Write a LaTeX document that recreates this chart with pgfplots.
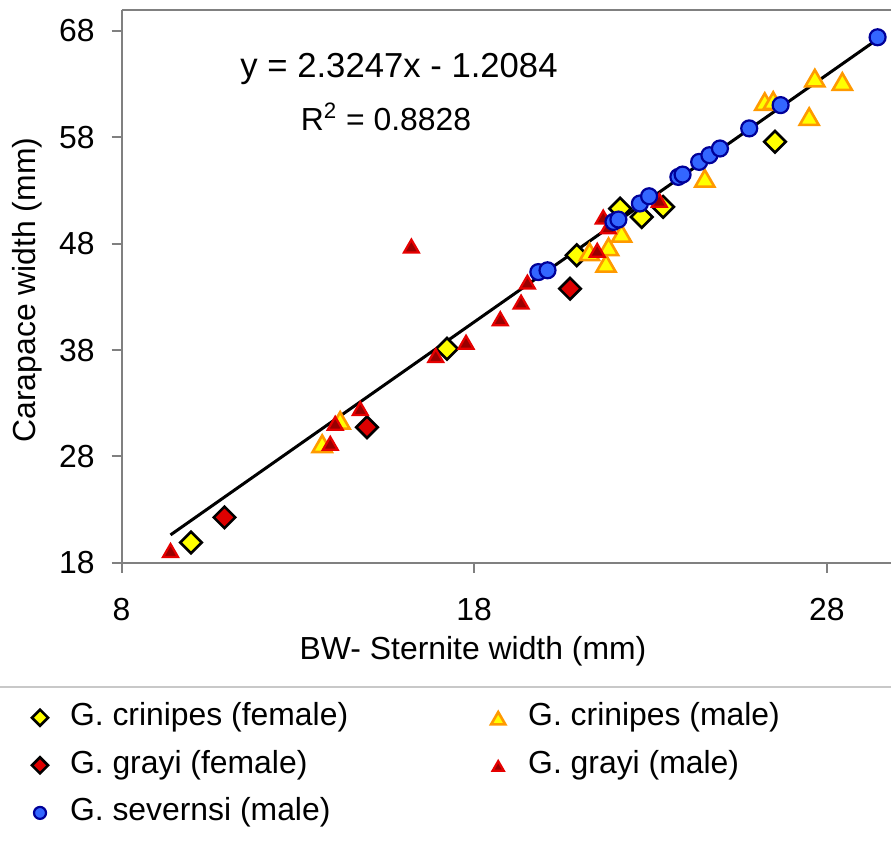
\documentclass[border=0pt]{standalone}
\usepackage{fontspec}
\setmainfont{Liberation Sans}
\usepackage{pgfplots}
\pgfplotsset{compat=1.18}

\definecolor{dyellow}{RGB}{255,255,0}
\definecolor{dorange}{RGB}{255,153,0}
\definecolor{dred}{RGB}{221,0,0}
\definecolor{tredfill}{RGB}{153,0,0}
\definecolor{tredline}{RGB}{230,0,0}
\definecolor{sblue}{RGB}{51,102,255}
\definecolor{sbluedark}{RGB}{0,0,153}
\definecolor{axgray}{RGB}{128,128,128}
\definecolor{sepgray}{RGB}{200,200,200}

\newcommand{\bigfont}{\fontsize{16}{19}\selectfont}

\pgfplotsset{
  scat/.style={only marks,
    legend image code/.code={%
      \path[draw=none, fill=none] (0bp,-5bp) rectangle (30bp,5bp);
      \draw[mark repeat=2,mark phase=2,##1,every mark/.append style={scale=0.75}]
        plot coordinates {(0bp,0bp) (15bp,0bp) (30bp,0bp)};}},
}

\begin{document}
\begin{tikzpicture}
\begin{axis}[
  scale only axis,
  width=384.7bp, height=276.5bp,
  xmin=8, xmax=29.82, ymin=18, ymax=70,
  xtick={8,18,28}, ytick={18,28,38,48,58,68},
  axis lines*=left,
  axis line style={axgray, line width=1bp},
  tick style={axgray, line width=1bp},
  tick align=outside,
  major tick length=5bp,
  clip=false,
  /pgf/number format/assume math mode=true,
  tick label style={font=\bigfont, black},
  label style={font=\bigfont},
  xticklabel style={anchor=north, inner sep=0pt, yshift=-12.4bp},
  yticklabel style={anchor=east, inner sep=0pt, xshift=-8.25bp},
  xlabel={BW- Sternite width (mm)},
  ylabel={Carapace width (mm)},
  xlabel style={at={(axis description cs:0.4568,-0.1597)}, anchor=center},
  ylabel style={at={(axis description cs:-0.1228,0.4931)}, anchor=center},
  legend columns=2,
  legend cell align=left,
  legend style={at={(axis description cs:-0.1449,-0.2512)}, anchor=north west,
    draw=none, fill=none, inner sep=0pt, outer sep=0pt, font=\bigfont,
    row sep=7.8bp, column sep=0pt,
    nodes={inner sep=0pt, text height=12bp, text depth=4bp},
    /tikz/every even column/.append style={column sep=60bp}},
]

% G. crinipes (female)
\addplot[scat, mark=square*, mark size=3.8bp,
  mark options={rotate=45, fill=dyellow, draw=black, line width=1.3bp}] coordinates {
  (9.97,19.91) (17.23,38.12) (20.91,46.91) (22.14,51.30) (22.75,50.51) (23.36,51.46) (26.53,57.58)
};
\addlegendentry{G. crinipes (female)}

% G. crinipes (male)
\addplot[scat, mark=triangle*, mark size=5.5bp,
  mark options={fill=dyellow, draw=dorange, line width=1.3bp, yshift=-1.3bp}] coordinates {
  (13.69,29.18) (14.20,31.37) (21.27,47.22) (21.74,46.13) (21.81,47.69) (22.18,48.95)
  (24.54,54.13) (26.24,61.34) (26.48,61.44) (27.50,59.93) (27.66,63.55) (28.44,63.23)
};
\addlegendentry{G. crinipes (male)}

% G. grayi (female)
\addplot[scat, mark=square*, mark size=3.8bp,
  mark options={rotate=45, fill=dred, draw=black, line width=1.3bp}] coordinates {
  (10.92,22.27) (14.96,30.74) (20.72,43.77)
};
\addlegendentry{G. grayi (female)}

% G. grayi (male)
\addplot[scat, mark=triangle*, mark size=4.3bp,
  mark options={fill=tredfill, draw=tredline, line width=1.1bp, yshift=-1.1bp}] coordinates {
  (9.39,19.16) (13.92,29.23) (14.06,31.12) (14.77,32.50) (16.22,47.78) (16.91,37.49)
  (17.77,38.74) (18.74,40.95) (19.33,42.51) (19.51,44.39) (21.49,47.38) (21.66,50.51)
  (21.80,49.60) (23.25,52.08)
};
\addlegendentry{G. grayi (male)}

% G. severnsi (male)
\addplot[scat, mark=*, mark size=4bp,
  mark options={fill=sblue, draw=sbluedark, line width=1.1bp}] coordinates {
  (19.82,45.33) (20.08,45.50) (21.95,50.05) (22.09,50.27) (22.70,51.78) (22.96,52.46)
  (23.79,54.28) (23.91,54.50) (24.38,55.69) (24.67,56.32) (24.97,56.95) (25.80,58.84)
  (26.69,61.03) (29.44,67.41)
};
\addlegendentry{G. severnsi (male)}

% linear trend
\addplot[black, line width=1.5bp, sharp plot, mark=none, forget plot] coordinates {
  (9.39,20.62) (29.44,67.23)
};

\draw[axgray, line width=1bp] (rel axis cs:0,1) -- (rel axis cs:1,1);
\node[anchor=base, font=\fontsize{17.4}{20}\selectfont] at (axis cs:15.87,63.58) {y = 2.3247x - 1.2084};
\node[anchor=base, font=\bigfont] at (axis cs:15.50,58.60) {R\textsuperscript{2} = 0.8828};

\draw[sepgray, line width=1bp] (axis description cs:-0.15792,-0.2248) -- (axis description cs:1,-0.2248);
\coordinate (bbSW) at (axis description cs:-0.15792,-0.50325);
\coordinate (bbNE) at (axis description cs:1,1.01754);
\end{axis}
\pgfresetboundingbox
\path (bbSW) rectangle (bbNE);
\end{tikzpicture}
\end{document}
